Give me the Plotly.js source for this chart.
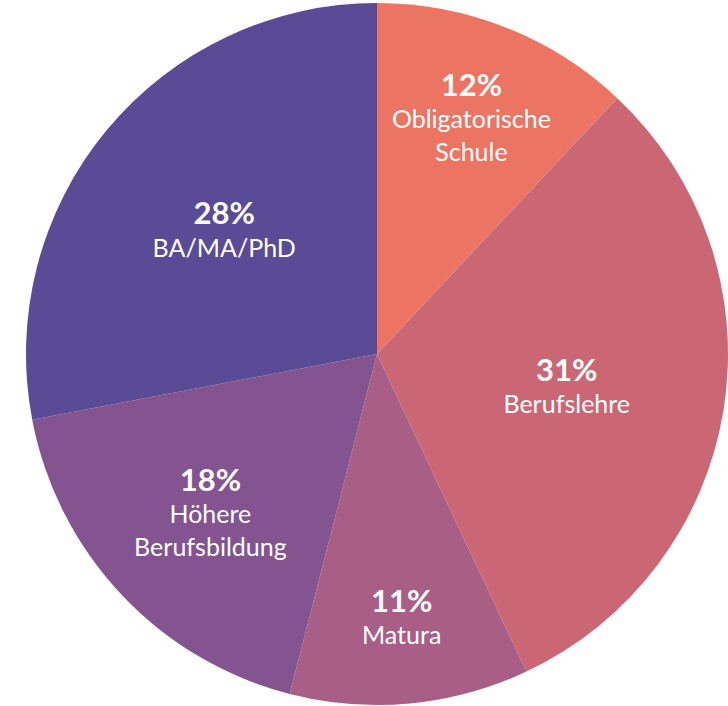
<!DOCTYPE html>
<html>
<head>
<meta charset="utf-8">
<script src="https://cdn.plot.ly/plotly-3.0.1.min.js"></script>
<style>
  html, body { margin: 0; padding: 0; background: #ffffff; }
  #chart { width: 728px; height: 706px; }
</style>
</head>
<body>
<div id="chart"></div>
<script>
const categories = ["Obligatorische<br>Schule", "Berufslehre", "Matura", "Höhere<br>Berufsbildung", "BA/MA/PhD"];
const shares = [12, 31, 11, 18, 28];
const sliceColors = ["#EC7463", "#CB6775", "#A85E85", "#83548F", "#5A4B96"];

const trace = {
  type: "pie",
  labels: categories,
  values: shares,
  sort: false,
  direction: "clockwise",
  rotation: 0,
  marker: { colors: sliceColors, line: { width: 0 } },
  textinfo: "label+percent",
  texttemplate: "<span style='font-size:31px'><b>%{percent:.0%}</b></span><br>%{label}",
  textposition: "inside",
  insidetextorientation: "horizontal",
  insidetextfont: { family: "Lato, 'Open Sans', sans-serif", size: 25, color: "#ffffff" },
  hoverinfo: "none",
  showlegend: false,
  domain: { x: [26 / 728, 1], y: [1 / 706, 703 / 706] }
};

const layout = {
  width: 728,
  height: 706,
  margin: { l: 0, r: 0, t: 0, b: 0 },
  paper_bgcolor: "#ffffff",
  showlegend: false
};

Plotly.newPlot("chart", [trace], layout, { displayModeBar: false, staticPlot: true });
</script>
</body>
</html>
